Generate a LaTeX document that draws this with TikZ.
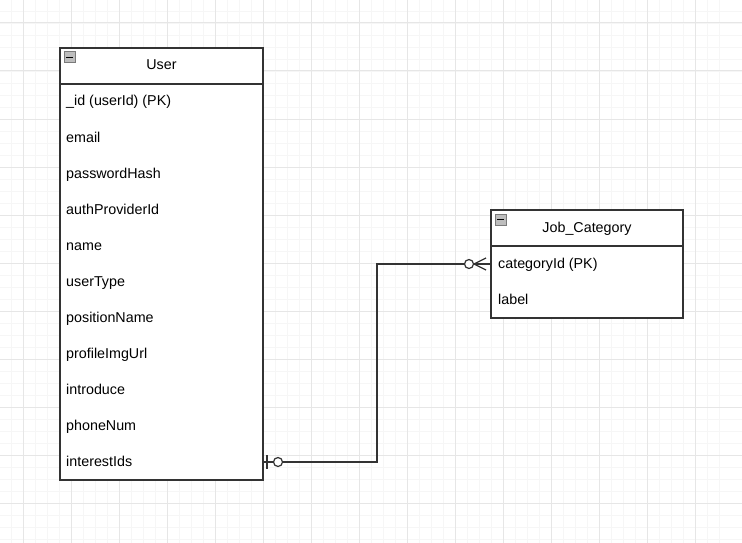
\documentclass[tikz,border=0pt]{standalone}
\usepackage{fontspec}
\setmainfont{Liberation Sans}
\definecolor{gridminor}{HTML}{F6F6F6}
\definecolor{gridmajor}{HTML}{E6E6E6}
\definecolor{edge}{HTML}{333333}
\definecolor{icongray}{HTML}{BDBDBD}
\definecolor{iconedge}{HTML}{7A7A7A}
\begin{document}
\begin{tikzpicture}[x=1pt,y=-1pt,
  tbl/.style={draw=edge,line width=1.2pt,fill=white},
  hdr/.style={font=\fontsize{14.3}{16}\selectfont,anchor=base,inner sep=0pt},
  fld/.style={font=\fontsize{14.3}{16}\selectfont,anchor=base west,inner sep=0pt},
  conn/.style={draw=edge,line width=1.2pt},
  icon/.style={draw=iconedge,fill=icongray,line width=1pt}]
\useasboundingbox (0,0) rectangle (742,543);
\fill[white] (0,0) rectangle (742,543);
% grid
\foreach \i in {-1,...,62}{
  \pgfmathsetmacro{\p}{23+12*\i-48}
  \draw[gridminor,line width=0.8pt] (\p,0) -- (\p,543);
  \draw[gridminor,line width=0.8pt] (0,\p) -- (742,\p);
}
\foreach \i in {-1,...,16}{
  \pgfmathsetmacro{\p}{23+48*\i}
  \draw[gridmajor,line width=1pt] (\p,0) -- (\p,543);
  \draw[gridmajor,line width=1pt] (0,\p) -- (742,\p);
}
% User table
\draw[tbl] (60,48) rectangle (263,480);
\draw[draw=edge,line width=1.2pt] (60,84) -- (263,84);
\draw[icon] (64,52) rectangle (75,63);
\draw[black,line width=1.4pt] (66,57.5) -- (73,57.5);
\node[hdr] (uh) at (161.5,70) {User};
\node[fld] (u1) at (66,106) {\_id (userId) (PK)};
\node[fld] (u2) at (66,142) {email};
\node[fld] (u3) at (66,178) {passwordHash};
\node[fld] (u4) at (66,214) {authProviderId};
\node[fld] (u5) at (66,250) {name};
\node[fld] (u6) at (66,286) {userType};
\node[fld] (u7) at (66,322) {positionName};
\node[fld] (u8) at (66,358) {profileImgUrl};
\node[fld] (u9) at (66,394) {introduce};
\node[fld] (u10) at (66,430) {phoneNum};
\node[fld] (u11) at (66,466) {interestIds};
\coordinate (uport) at (263,462);
% Job_Category table
\draw[tbl] (491,210) rectangle (683,318);
\draw[draw=edge,line width=1.2pt] (491,246) -- (683,246);
\draw[icon] (495,214) rectangle (506,225);
\draw[black,line width=1.4pt] (497,219.5) -- (504,219.5);
\node[hdr] (jh) at (587,232) {Job\_Category};
\node[fld] (j1) at (498,268) {categoryId (PK)};
\node[fld] (j2) at (498,304) {label};
\coordinate (jport) at (491,264);
% connector
\coordinate (bend) at (377,0);
\draw[conn] (uport) -- (uport -| bend) |- (jport);
% start marker: one-bar + circle
\draw[conn] (267,455) -- (267,469);
\draw[conn,fill=white] (278,462) circle (4.5);
% end marker: circle + crow's foot
\draw[conn,fill=white] (469,264) circle (4.5);
\draw[conn] (486,258) -- (474,264) -- (486,270);
\draw[conn] (474,264) -- (jport);
\end{tikzpicture}
\end{document}
